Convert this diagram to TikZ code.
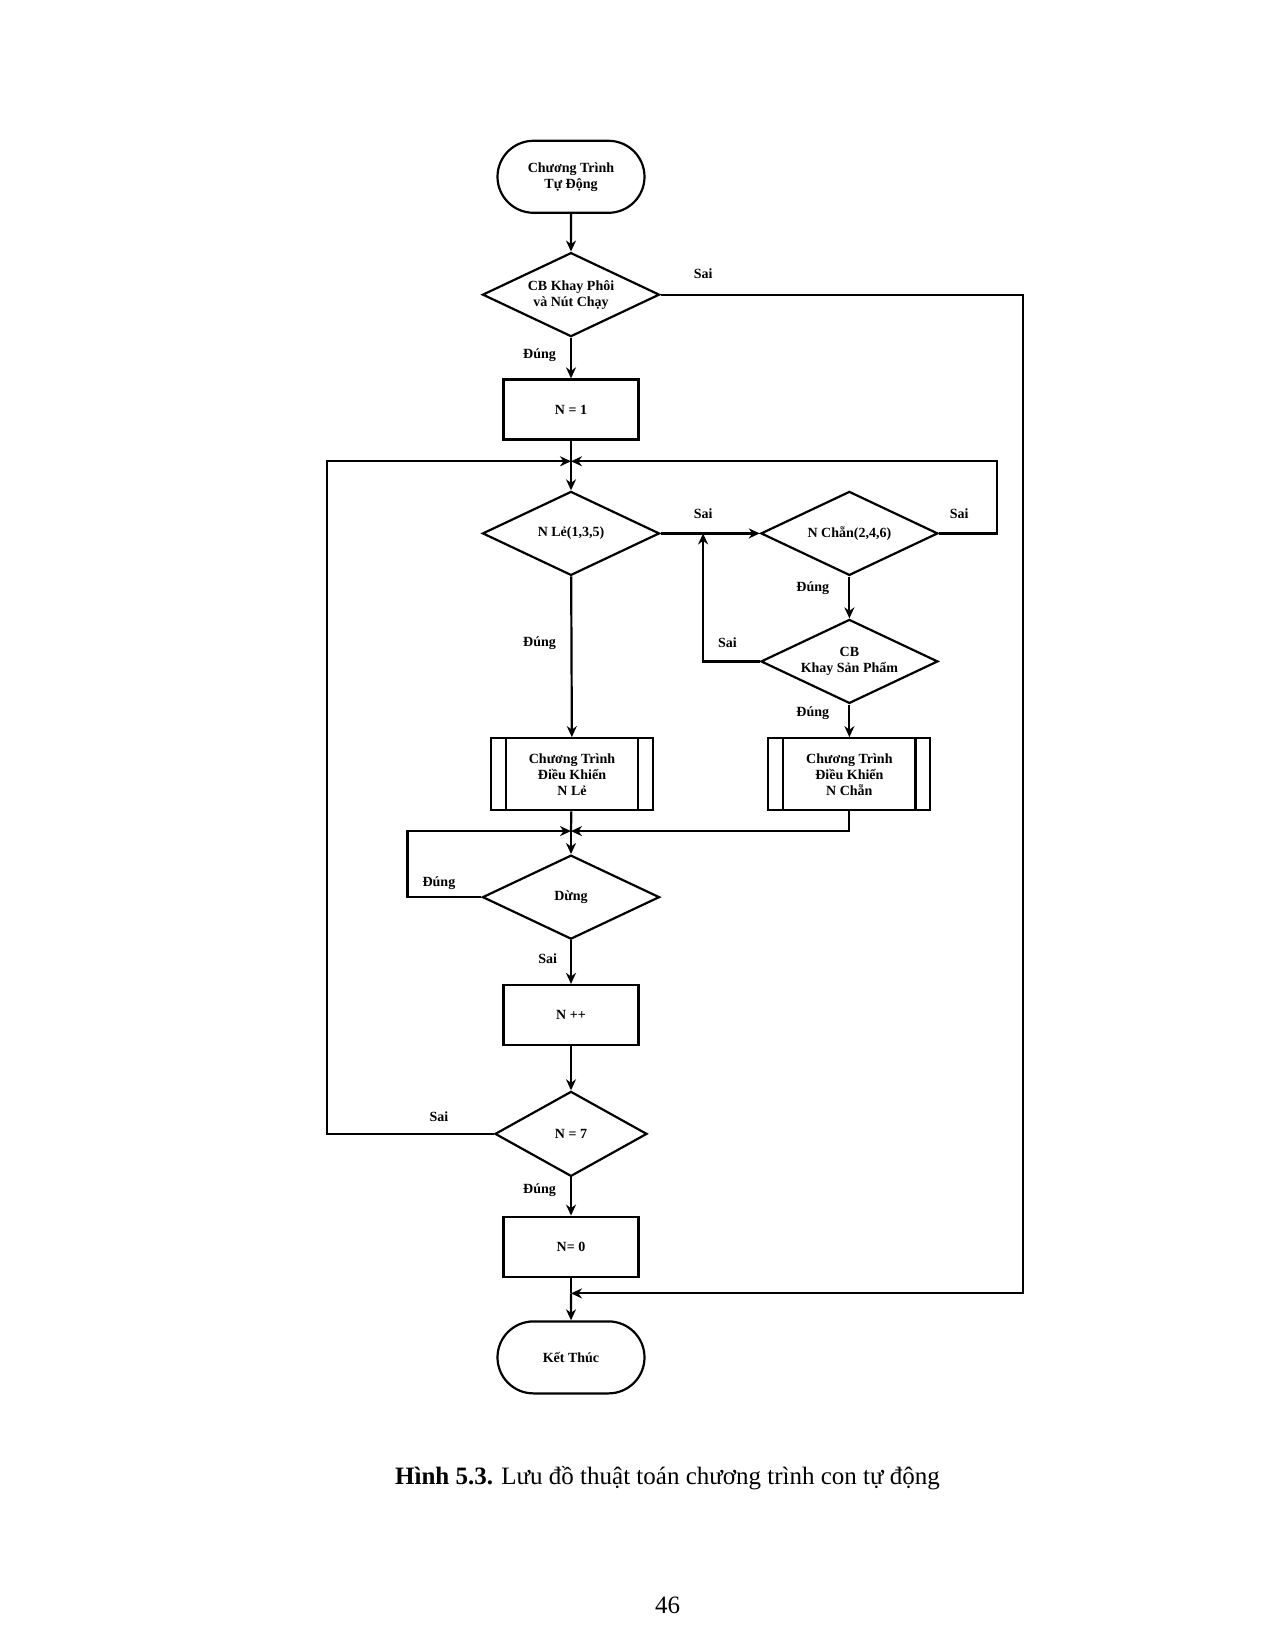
\documentclass[tikz,border=0pt]{standalone}
\usepackage{fontspec}
\setmainfont{Liberation Serif}
\usetikzlibrary{shapes.geometric,shapes.misc,arrows.meta}
\begin{document}
\begin{tikzpicture}[x=1.016pt,y=-1.016pt,
  every node/.style={font=\bfseries\fontsize{14}{16}\selectfont,align=center},
  box/.style={draw,line width=2.2pt,minimum width=135pt,minimum height=60pt,inner sep=0},
  term/.style={draw,line width=2.2pt,rounded rectangle,minimum width=147pt,minimum height=72pt,inner sep=0},
  dia/.style={draw,line width=2.2pt,diamond,aspect=2.1,inner sep=0,minimum width=177pt,minimum height=84pt},
  sub/.style={box,minimum width=162pt,minimum height=72pt},
  arr/.style={line width=2.2pt,-{Stealth[length=11pt,width=10pt]}},
  ln/.style={line width=2.2pt},
  lbl/.style={font=\bfseries\fontsize{14}{16}\selectfont}]
\useasboundingbox (0,0) rectangle (1255,1624);
\node[term] (start) at (562,174) {Chương Trình\\Tự Động};
\node[dia] (d1) at (562,290) {CB Khay Phôi\\và Nút Chạy};
\node[box] (n1) at (562,403) {N = 1};
\coordinate (j1) at (562,454);
\node[dia] (d2) at (562,525) {N Lẻ(1,3,5)};
\node[dia] (d3) at (836,525) {N Chẵn(2,4,6)};
\node[dia] (d4) at (836,651) {CB\\Khay Sản Phẩm};
\node[sub] (s1) at (563,762) {Chương Trình\\Điều Khiển\\N Lẻ};
\node[sub] (s2) at (836,762) {Chương Trình\\Điều Khiển\\N Chẵn};
\draw[ln] ([xshift=16pt]s1.north west) -- ([xshift=16pt]s1.south west);
\draw[ln] ([xshift=-16pt]s1.north east) -- ([xshift=-16pt]s1.south east);
\draw[ln] ([xshift=16pt]s2.north west) -- ([xshift=16pt]s2.south west);
\draw[ln] ([xshift=-16pt]s2.north east) -- ([xshift=-16pt]s2.south east);
\coordinate (j2) at (562,818);
\node[dia] (d5) at (562,883) {Dừng};
\node[box] (npp) at (562,999) {N ++};
\node[dia,minimum width=152pt,minimum height=85pt] (d6) at (562,1116) {N = 7};
\node[box] (n0) at (562,1227) {N= 0};
\coordinate (j3) at (562,1273);
\node[term] (end) at (562,1336) {Kết Thúc};

\draw[arr] (start) -- (d1);
\draw[arr] (d1) -- (n1);
\draw[ln] (n1) -- (j1);
\draw[arr] (j1) -- (d2);
\draw[arr] (d2.east) -- (d3.west);
\draw[arr] (d3) -- (d4);
\draw[arr] (d4) -- (s2);
\draw[arr] (d2) -- (s1);
\draw[ln] (s1) -- (j2);
\draw[arr] (j2) -- (d5);
\draw[arr] (d5) -- (npp);
\draw[arr] (npp) -- (d6);
\draw[arr] (d6) -- (n0);
\draw[ln] (n0) -- (j3);
\draw[arr] (j3) -- (end);
\draw[arr] (d1.east) -- (1007,290) -- (1007,1273) -- (j3);
\draw[arr] (d3.east) -- (981,525) -- (981,454) -- (j1);
\draw[arr] (d6.west) -- (322,1116) -- (322,454) -- (j1);
\draw[arr] (d4.west) -- (692,651) -- (692,525);
\draw[arr] (s2.south) -- (836,818) -- (j2);
\draw[arr] (d5.west) -- (401,883) -- (401,818) -- (j2);
\node[lbl] at (692,269) {Sai};
\node[lbl] at (531,350) {Đúng};
\node[lbl] at (692,506) {Sai};
\node[lbl] at (944,506) {Sai};
\node[lbl] at (800,579) {Đúng};
\node[lbl] at (716,633) {Sai};
\node[lbl] at (800,702) {Đúng};
\node[lbl] at (531,633) {Đúng};
\node[lbl] at (432,869) {Đúng};
\node[lbl] at (539,944) {Sai};
\node[lbl] at (432,1099) {Sai};
\node[lbl] at (531,1171) {Đúng};
\node[font=\fontsize{25}{30}\selectfont] (cap) at (657,1455) {\textbf{Hình 5.3.} Lưu đồ thuật toán chương trình con tự động};
\node[font=\fontsize{25}{30}\selectfont] (pg) at (657,1580) {46};
\end{tikzpicture}
\end{document}
